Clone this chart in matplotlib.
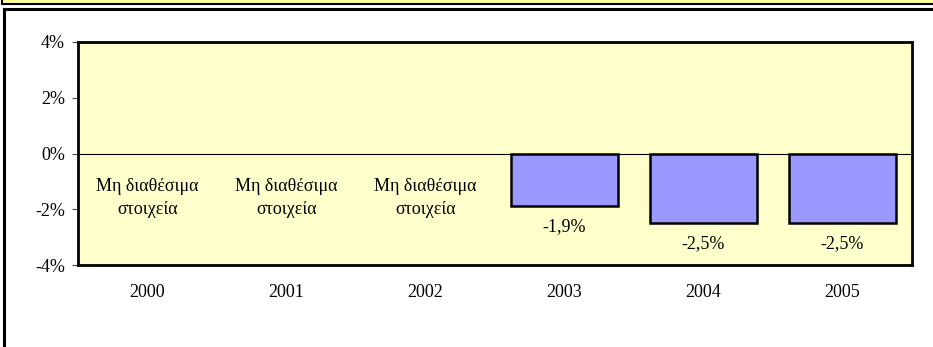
import numpy as np
import matplotlib.pyplot as plt
from matplotlib.patches import Rectangle
from matplotlib.lines import Line2D

years = ["2000", "2001", "2002", "2003", "2004", "2005"]
values = [None, None, None, -1.9, -2.5, -2.5]
value_labels = ["", "", "", "-1,9%", "-2,5%", "-2,5%"]
na_text = "Μη διαθέσιμα\nστοιχεία"
yticks = [-4, -2, 0, 2, 4]

plt.rcParams['font.family'] = ['Liberation Serif', 'DejaVu Serif']
FS = 13

W, H = 933, 347
fig = plt.figure(figsize=(W / 100, H / 100), dpi=100)

# frame pieces around the chart
fig.add_artist(Rectangle((2 / W, 1 - 4 / H), 1, 6 / H, transform=fig.transFigure,
                         facecolor="#FFFF99", edgecolor="black", lw=1.5, clip_on=False))
fig.add_artist(Line2D([3.5 / W, 1], [1 - 9 / H, 1 - 9 / H], transform=fig.transFigure,
                      color="black", lw=2.2))
fig.add_artist(Line2D([3.5 / W, 3.5 / W], [0, 1 - 9 / H], transform=fig.transFigure,
                      color="black", lw=2.2))

ax = fig.add_axes([78 / W, (H - 265) / H, (912 - 78) / W, (265 - 42) / H])
ax.set_facecolor("#FFFFCC")

x = np.arange(len(years))
for i, v in enumerate(values):
    if v is None:
        ax.text(i, -1.6, na_text, ha="center", va="center", fontsize=FS,
                linespacing=1.5)
    else:
        ax.bar(i, v, width=0.775, color="#9999FF", edgecolor="black", linewidth=1.8,
               zorder=3)
        ax.text(i, v - 0.72, value_labels[i], ha="center", va="center", fontsize=FS)

ax.axhline(0, color="black", lw=0.8, zorder=2)
ax.set_xlim(-0.5, len(years) - 0.5)
ax.set_ylim(-4, 4)
ax.set_yticks(yticks)
ax.set_yticklabels([f"{t}%" for t in yticks], fontsize=FS)
ax.set_xticks(x)
ax.set_xticklabels(years, fontsize=FS)
ax.tick_params(axis="x", length=0, pad=14)
ax.tick_params(axis="y", length=4.5, width=0.8, direction="out", pad=5, color="#444444")
for s in ax.spines.values():
    s.set_linewidth(2)
    s.set_color("black")

fig.savefig("out.png", dpi=100)
